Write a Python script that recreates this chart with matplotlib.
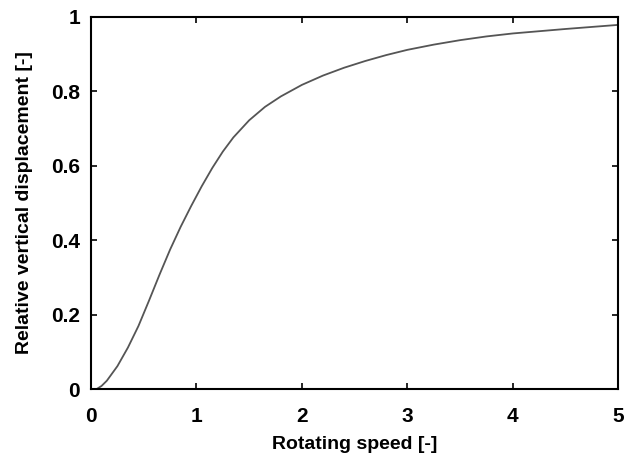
import matplotlib
matplotlib.use('Agg')
import matplotlib.pyplot as plt

# values
speed = [0.05, 0.1, 0.15, 0.25, 0.35, 0.45, 0.55, 0.65, 0.75, 0.85, 0.95, 1.05, 1.15,
         1.25, 1.35, 1.5, 1.65, 1.8, 2.0, 2.2, 2.4, 2.6, 2.8, 3.0, 3.25, 3.5,
         3.75, 4.0, 4.5, 5.0]
displacement = [0.0, 0.009, 0.023, 0.062, 0.112, 0.170, 0.238, 0.308, 0.375, 0.436, 0.492, 0.545, 0.594,
                0.638, 0.676, 0.722, 0.758, 0.786, 0.817, 0.842, 0.863, 0.881, 0.897, 0.911, 0.925, 0.937,
                0.947, 0.955, 0.967, 0.978]

x_ticks = [0, 1, 2, 3, 4, 5]
y_ticks = [0, 0.2, 0.4, 0.6, 0.8, 1]
y_tick_labels = ['0', '0.2', '0.4', '0.6', '0.8', '1']

plt.rcParams['font.family'] = ['Liberation Sans', 'DejaVu Sans']
plt.rcParams['font.weight'] = 'bold'

fig = plt.figure(figsize=(6.26, 4.62), dpi=100)
ax = fig.add_axes([0.1454, 0.1574, 0.8423, 0.8065])

ax.plot(speed, displacement, color='#555555', linewidth=1.3)

ax.set_xlim(0, 5)
ax.set_ylim(0, 1)
ax.set_xticks(x_ticks)
ax.set_yticks(y_ticks)
ax.set_yticklabels(y_tick_labels)
ax.tick_params(direction='in', length=4, width=1.2, top=True, right=True,
               labelsize=15, colors='black')
ax.tick_params(axis='x', pad=13)
ax.tick_params(axis='y', pad=8)
for s in ax.spines.values():
    s.set_linewidth(1.5)

ax.set_xlabel('Rotating speed [-]', fontsize=14, fontweight='bold', labelpad=7)
ax.set_ylabel('Relative vertical displacement [-]', fontsize=14, fontweight='bold', labelpad=13)

fig.savefig('out.png', dpi=100)
